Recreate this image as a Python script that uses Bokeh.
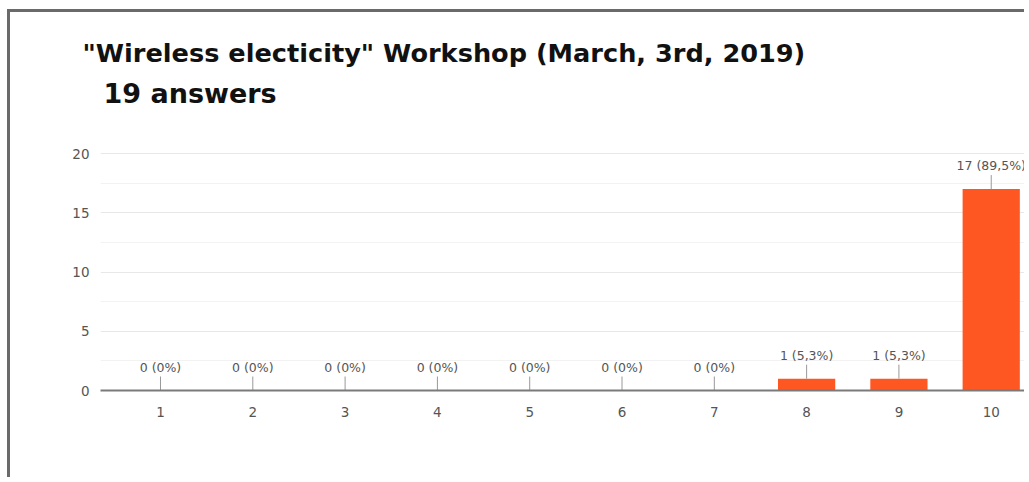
from bokeh.plotting import figure
from bokeh.models import Range1d, FixedTicker, ColumnDataSource, LabelSet, Label
from bokeh.core.properties import value
from bokeh.embed import file_html
from bokeh.resources import INLINE

title_text = '"Wireless electicity" Workshop (March, 3rd, 2019)'
subtitle_text = "19 answers"
ratings = [1, 2, 3, 4, 5, 6, 7, 8, 9, 10]
counts = [0, 0, 0, 0, 0, 0, 0, 1, 1, 17]
percents = ["0%", "0%", "0%", "0%", "0%", "0%", "0%", "5,3%", "5,3%", "89,5%"]
y_ticks = [0, 5, 10, 15, 20]
y_minor = [2.5, 7.5, 12.5, 17.5]

labels = [f"{c} ({pc})" for c, pc in zip(counts, percents)]
src = ColumnDataSource(dict(x=ratings, y=counts, label=labels))

W, H = 1017, 468
p = figure(width=W, height=H, output_backend="svg", toolbar_location=None,
           x_range=Range1d(0.35, 10.393), y_range=Range1d(0, 26.67),
           min_border_left=90, min_border_right=0, min_border_top=62,
           min_border_bottom=90, title=title_text)
p.styles = {"margin-left": "7px", "margin-top": "9px",
            "border-left": "3px solid #6a6a6a", "border-top": "3px solid #6a6a6a"}
p.outline_line_color = None
p.background_fill_color = "white"
p.border_fill_color = "white"

p.title.text_font = "DejaVu Sans"
p.title.text_font_style = "bold"
p.title.text_font_size = "25.6px"
p.title.text_color = "#111111"
p.title.align = "left"
p.title.offset = -18
p.title.standoff = 13

# screen units are relative to the plot frame (origin bottom-left)
p.add_layout(Label(x=3, y=297, x_units="screen", y_units="screen",
                   text=subtitle_text, text_font="DejaVu Sans",
                   text_font_style="bold", text_font_size="27px",
                   text_color="#111111", text_baseline="middle", text_align="left"))

p.vbar(x="x", top="y", width=0.62, source=src, fill_color="#ff5722", line_color=None)
p.ray(x="x", y="y", length=14, length_units="screen", angle=90, angle_units="deg",
      line_color="#999999", line_width=1, source=src)
p.add_layout(LabelSet(x="x", y="y", text="label", source=src, y_offset=16,
                      text_align="center", text_baseline="bottom",
                      text_font=value("DejaVu Sans"), text_font_size="12.5px",
                      text_color="#555555"))

p.xaxis.ticker = FixedTicker(ticks=ratings)
p.xaxis.axis_line_color = "#7a7a7a"
p.xaxis.axis_line_width = 2
p.xaxis.major_tick_line_color = None
p.xaxis.minor_tick_line_color = None
p.xaxis.major_label_standoff = 10
p.xaxis.major_label_text_font = "DejaVu Sans"
p.xaxis.major_label_text_font_size = "13.5px"
p.xaxis.major_label_text_color = "#555555"

p.yaxis.ticker = FixedTicker(ticks=y_ticks, minor_ticks=y_minor)
p.yaxis.axis_line_color = None
p.yaxis.major_tick_line_color = None
p.yaxis.minor_tick_line_color = None
p.yaxis.major_label_standoff = 5
p.yaxis.major_label_text_font = "DejaVu Sans"
p.yaxis.major_label_text_font_size = "13.5px"
p.yaxis.major_label_text_color = "#555555"

p.xgrid.grid_line_color = None
p.ygrid.grid_line_color = "#e8e8e8"
p.ygrid.minor_grid_line_color = "#f2f2f2"

open("out.html", "w").write(file_html(p, INLINE))
